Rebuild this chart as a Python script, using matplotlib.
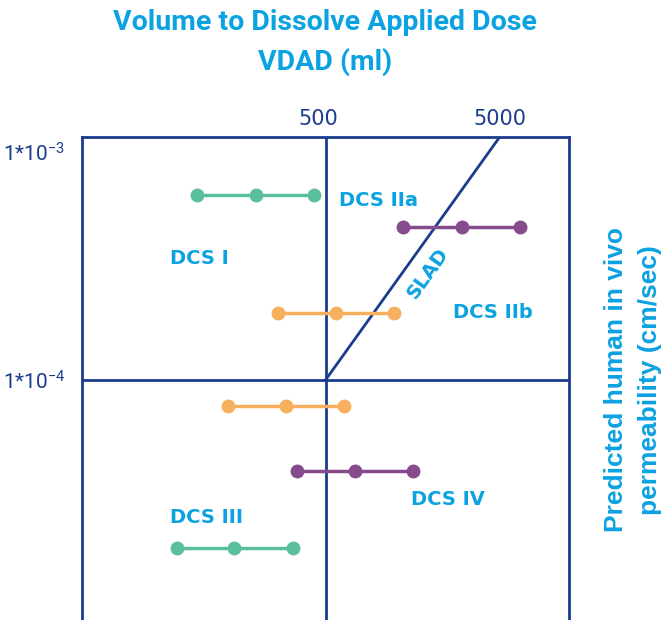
"""
DCS diagram: VDAD vs predicted human in vivo permeability.
"""
import matplotlib
matplotlib.use("Agg")
import matplotlib.pyplot as plt
from matplotlib.ticker import NullLocator
from matplotlib.transforms import ScaledTranslation

plt.rcParams["mathtext.fontset"] = "custom"
plt.rcParams["mathtext.rm"] = "Roboto"
plt.rcParams["mathtext.default"] = "regular"

NAVY = "#1B3C8C"
CYAN = "#0BA2E2"
GREEN = "#5BBE9F"
ORANGE = "#F6B05E"
PURPLE = "#864B8D"

# series (VDAD ml, permeability cm/s)
green_hi_x = [92, 199, 430]
green_hi_y = [6.5e-4, 6.5e-4, 6.5e-4]
purple_hi_x = [1400, 3020, 6520]
purple_hi_y = [4.7e-4, 4.7e-4, 4.7e-4]
orange_hi_x = [266, 575, 1240]
orange_hi_y = [1.97e-4, 1.97e-4, 1.97e-4]
orange_lo_x = [137, 296, 640]
orange_lo_y = [7.7e-5, 7.7e-5, 7.7e-5]
purple_lo_x = [343, 740, 1600]
purple_lo_y = [4.0e-5, 4.0e-5, 4.0e-5]
green_lo_x = [70, 150, 325]
green_lo_y = [1.83e-5, 1.83e-5, 1.83e-5]

slad_x = [500, 5000]
slad_y = [1e-4, 1.164e-3]

x_ticks = [500, 5000]
x_tick_labels = ["500", "5000"]
y_ticks = [1e-3, 1e-4]
y_tick_labels = ["1*10$^{-3}$", "1*10$^{-4}$"]

region_labels = ["DCS I", "DCS IIa", "DCS IIb", "DCS III", "DCS IV"]
region_x = [95, 1004, 4560, 104, 2507]
region_y = [3.42e-4, 6.1e-4, 1.97e-4, 2.5e-5, 3.0e-5]

fig = plt.figure(figsize=(6.71, 6.2), dpi=100)
ax = fig.add_axes([82 / 671, 0, (569 - 82) / 671, 1 - 137 / 620])
ax.set_xscale("log")
ax.set_yscale("log")
ax.set_xlim(20, 12500)
ax.set_ylim(8.86e-6, 1.164e-3)

for s in ["top", "left", "right"]:
    ax.spines[s].set_color(NAVY)
    ax.spines[s].set_linewidth(2)
ax.spines["bottom"].set_visible(False)

ax.axvline(500, color=NAVY, lw=2)
ax.axhline(1e-4, color=NAVY, lw=2)
ax.plot(slad_x, slad_y, color=NAVY, lw=2)

series = [
    (green_hi_x, green_hi_y, GREEN),
    (purple_hi_x, purple_hi_y, PURPLE),
    (orange_hi_x, orange_hi_y, ORANGE),
    (orange_lo_x, orange_lo_y, ORANGE),
    (purple_lo_x, purple_lo_y, PURPLE),
    (green_lo_x, green_lo_y, GREEN),
]
for sx, sy, c in series:
    ax.plot(sx, sy, "-o", color=c, lw=2.5, ms=9, zorder=3)

for lab, lx, ly in zip(region_labels, region_x, region_y):
    ax.text(lx, ly, lab, color=CYAN, fontsize=14, fontweight="bold",
            ha="center", va="center", family="DejaVu Sans")
ax.text(1923, 2.95e-4, "SLAD", color=CYAN, fontsize=14, fontweight="bold",
        ha="center", va="center", rotation=54.5, family="DejaVu Sans")

ax.set_xticks(x_ticks)
ax.set_xticklabels(x_tick_labels, fontsize=15, color=NAVY)
ax.xaxis.set_minor_locator(NullLocator())
ax.tick_params(axis="x", top=True, bottom=False, labeltop=True,
               labelbottom=False, length=0, pad=6)
shift = ScaledTranslation(-7 / 100, 0, fig.dpi_scale_trans)
lbl = ax.get_xticklabels()[0]
lbl.set_transform(lbl.get_transform() + shift)

ax.set_yticks(y_ticks)
ax.set_yticklabels(y_tick_labels, fontsize=15, color=NAVY, family="Roboto")
ax.yaxis.set_minor_locator(NullLocator())
ax.tick_params(axis="y", length=0, pad=12)

fig.text(325 / 671, 1 - 22 / 620, "Volume to Dissolve Applied Dose", color=CYAN,
         fontsize=20.5, fontweight="bold", family="Roboto", ha="center", va="center")
fig.text(325 / 671, 1 - 62 / 620, "VDAD (ml)", color=CYAN,
         fontsize=20.5, fontweight="bold", family="Roboto", ha="center", va="center")
fig.text(633 / 671, 1 - 380 / 620, "Predicted human in vivo\npermeability (cm/sec)",
         color=CYAN, fontsize=19, fontweight="bold", family="Liberation Sans",
         rotation=90, ha="center", va="center", linespacing=1.55)

fig.savefig("out.png", dpi=100)
